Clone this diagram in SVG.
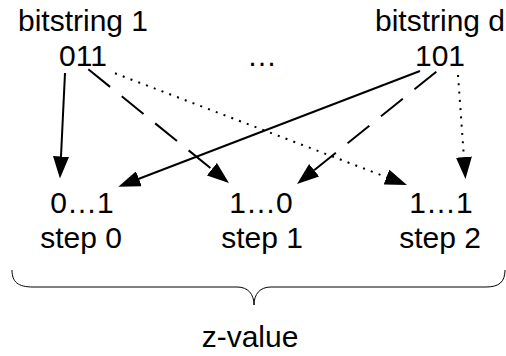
<svg xmlns="http://www.w3.org/2000/svg" width="506" height="356" viewBox="0 0 506 356">
<style>
text{font-family:"Liberation Sans",Arial,sans-serif;font-size:30px;fill:#000;text-anchor:middle}
.c{fill:none;stroke:#000;stroke-width:2}
.dash{stroke-dasharray:28 15}
.dot{stroke-dasharray:2 6.3}
.brace{fill:none;stroke:#000;stroke-width:1}
</style>
<defs>
<marker id="ah" viewBox="0 0 22 16" refX="2" refY="8" markerWidth="22" markerHeight="16" markerUnits="userSpaceOnUse" orient="auto">
<path d="M0,0 L22,8 L0,16 z" fill="#000"/>
</marker>
</defs>
<g id="bitstring1">
<text x="83" y="31">bitstring 1</text>
<text x="83" y="66">011</text>
</g>
<g id="ellipsis">
<text x="262" y="66">…</text>
</g>
<g id="bitstringd">
<text x="440" y="31">bitstring d</text>
<text x="440" y="66">101</text>
</g>
<g id="step0">
<text x="82" y="213">0…1</text>
<text x="81" y="248">step 0</text>
</g>
<g id="step1">
<text x="261" y="213">1…0</text>
<text x="262" y="248">step 1</text>
</g>
<g id="step2">
<text x="441" y="213">1…1</text>
<text x="440" y="248">step 2</text>
</g>
<g id="connectors">
<path class="c" d="M65,73 L60.9,158.5" marker-end="url(#ah)"/>
<path class="c dash" d="M88.3,69.3 L213.4,170.4" marker-end="url(#ah)"/>
<path class="c dot" d="M115,73.3 L388.3,177.85" marker-end="url(#ah)"/>
<path class="c" d="M420,71 L137,179.5" marker-end="url(#ah)"/>
<path class="c dash" d="M436.3,71.7 L312.6,171.45" marker-end="url(#ah)"/>
<path class="c dot" d="M458,75 L464.06,159.05" marker-end="url(#ah)"/>
</g>
<g id="zvalue">
<path class="brace" d="M12,270 C12,282 18,287 33,287 L237,287 C248,287 254,294 254,305 C254,294 260,287 271,287 L486,287 C499,287 505,282 505,270"/>
<text x="250" y="347">z-value</text>
</g>
</svg>
